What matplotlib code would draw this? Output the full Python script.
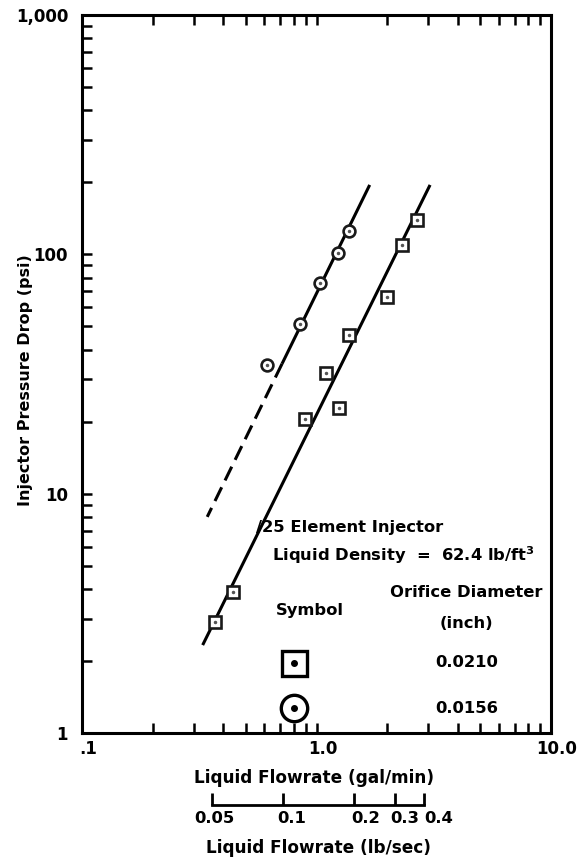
import numpy as np
import matplotlib
matplotlib.use("Agg")
import matplotlib.pyplot as plt
import matplotlib.transforms as mtransforms
from matplotlib.ticker import LogLocator, NullFormatter, FixedLocator, FixedFormatter

plt.rcParams['font.family'] = ['DejaVu Sans']
plt.rcParams['font.weight'] = 'bold'
plt.rcParams['mathtext.default'] = 'bf'

# ---- data (gal/min, psi) ----
sq_flow = [2.68, 2.31, 1.99, 1.37, 1.10, 1.25, 0.89, 0.442, 0.369]
sq_dp = [139, 109, 66.5, 46, 32, 22.7, 20.6, 3.9, 2.92]
ci_flow = [0.613, 0.850, 1.035, 1.24, 1.376]
ci_dp = [34.5, 51.1, 75.9, 101, 125.5]

# fitted lines (end points)
sq_line_flow = [3.05, 0.327]
sq_line_dp = [195, 2.33]
ci_solid_flow = [1.686, 0.713]
ci_solid_dp = [195, 34.9]
ci_dash_flow = [0.713, 0.342]
ci_dash_dp = [34.9, 8.0]

lbsec_ticks = [0.05, 0.1, 0.2, 0.3, 0.4]
lbsec_labels = ['0.05', '0.1', '0.2', '0.3', '0.4']
gal_per_min_per_lbsec = 60 / 8.34

fig = plt.figure(figsize=(5.83, 8.59), dpi=100)
L, R, T, B = 82, 551, 15, 733
W, H = 583, 859
ax = fig.add_axes([L / W, 1 - B / H, (R - L) / W, (B - T) / H])
ax.set_xscale('log')
ax.set_yscale('log')
ax.set_xlim(0.1, 10)
ax.set_ylim(1, 1000)

for s in ax.spines.values():
    s.set_linewidth(2.2)

ax.xaxis.set_major_locator(FixedLocator([0.1, 1, 10]))
ax.xaxis.set_major_formatter(FixedFormatter(['.1', '1.0', '10.0']))
ax.xaxis.set_minor_locator(LogLocator(base=10, subs=np.arange(2, 10)))
ax.xaxis.set_minor_formatter(NullFormatter())
ax.yaxis.set_major_locator(FixedLocator([1, 10, 100, 1000]))
ax.yaxis.set_major_formatter(FixedFormatter(['1', '10', '100', '1,000']))
ax.yaxis.set_minor_locator(LogLocator(base=10, subs=np.arange(2, 10)))
ax.yaxis.set_minor_formatter(NullFormatter())
ax.tick_params(which='both', direction='in', top=True, bottom=True, left=True, right=False,
               width=1.8, labelsize=12)
ax.tick_params(which='major', length=7)
ax.tick_params(which='minor', length=7)
ax.tick_params(axis='x', pad=5)
ax.tick_params(axis='y', pad=10)
offx = mtransforms.ScaledTranslation(6 / 100, 0, fig.dpi_scale_trans)
for lab in ax.get_xticklabels():
    lab.set_fontweight('bold')
    lab.set_transform(lab.get_transform() + offx)
for lab in ax.get_yticklabels():
    lab.set_fontweight('bold')

# lines
ax.plot(sq_line_flow, sq_line_dp, color='black', lw=2.2, solid_capstyle='butt', zorder=2)
ax.plot(ci_solid_flow, ci_solid_dp, color='black', lw=2.2, solid_capstyle='butt', zorder=2)
ax.plot(ci_dash_flow, ci_dash_dp, color='black', lw=2.2, dashes=(5, 2.5), zorder=2)

# markers
ax.plot(sq_flow, sq_dp, ls='none', marker='s', ms=8.5, mfc='white', mec='#1a1a1a', mew=1.9, zorder=3)
ax.plot(sq_flow, sq_dp, ls='none', marker='.', ms=3, color='#555555', zorder=4)
ax.plot(ci_flow, ci_dp, ls='none', marker='o', ms=8.5, mfc='white', mec='#1a1a1a', mew=1.9, zorder=3)
ax.plot(ci_flow, ci_dp, ls='none', marker='.', ms=3, color='#555555', zorder=4)

# legend texts
tkw = dict(transform=ax.transAxes, fontsize=11.8, fontweight='bold')
ax.text(0.372, 0.2869, '/25 Element Injector', ha='left', va='center', **tkw)
ax.text(0.405, 0.2479, 'Liquid Density  =  62.4 lb/ft$^{3}$', ha='left', va='center', **tkw)
ax.text(0.819, 0.195, 'Orifice Diameter', ha='center', va='center', **tkw)
ax.text(0.819, 0.1532, '(inch)', ha='center', va='center', **tkw)
ax.text(0.486, 0.1713, 'Symbol', ha='center', va='center', **tkw)
ax.text(0.82, 0.0975, '0.0210', ha='center', va='center', **tkw)
ax.text(0.82, 0.0348, '0.0156', ha='center', va='center', **tkw)
ax.plot([0.4514], [0.0975], transform=ax.transAxes, marker='s', ms=18, mfc='white', mec='black', mew=2.4, ls='none', clip_on=False)
ax.plot([0.4514], [0.0975], transform=ax.transAxes, marker='o', ms=4, color='black', ls='none')
ax.plot([0.4514], [0.0348], transform=ax.transAxes, marker='o', ms=19, mfc='white', mec='black', mew=2.4, ls='none', clip_on=False)
ax.plot([0.4514], [0.0348], transform=ax.transAxes, marker='o', ms=4, color='black', ls='none')

fig.text(26 / W, 1 - 380 / H, 'Injector Pressure Drop (psi)', rotation=90, ha='center', va='center',
         fontsize=11.5, fontweight='bold')
fig.text(314 / W, 1 - 778 / H, 'Liquid Flowrate (gal/min)', ha='center', va='center',
         fontsize=12.2, fontweight='bold')
fig.text(318 / W, 1 - 848 / H, 'Liquid Flowrate (lb/sec)', ha='center', va='center',
         fontsize=12.2, fontweight='bold')

# secondary lb/sec scale
y2 = 805
ax2 = fig.add_axes([L / W, 1 - y2 / H, (R - L) / W, 0.001])
ax2.set_xscale('log')
ax2.set_xlim(0.1 / gal_per_min_per_lbsec, 10 / gal_per_min_per_lbsec)
ax2.patch.set_visible(False)
for k in ['top', 'left', 'right']:
    ax2.spines[k].set_visible(False)
ax2.spines['bottom'].set_bounds(lbsec_ticks[0], lbsec_ticks[-1])
ax2.spines['bottom'].set_linewidth(2)
ax2.set_yticks([])
ax2.xaxis.set_major_locator(FixedLocator(lbsec_ticks))
ax2.xaxis.set_major_formatter(FixedFormatter(lbsec_labels))
ax2.xaxis.set_minor_locator(FixedLocator([]))
ax2.tick_params(axis='x', direction='in', length=9, width=2, labelsize=11.8, pad=4)
label_shift_px = [2, 9, 12, 10, 15]
for lab, dx in zip(ax2.get_xticklabels(), label_shift_px):
    lab.set_fontweight('bold')
    lab.set_transform(lab.get_transform() + mtransforms.ScaledTranslation(dx / 100, 0, fig.dpi_scale_trans))

fig.savefig('out.png', dpi=100)
